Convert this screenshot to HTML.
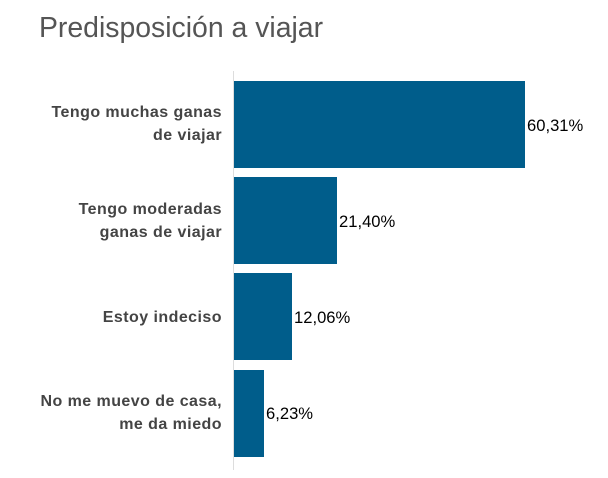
<!DOCTYPE html>
<html><head><style>
body{margin:0;width:608px;height:478px;background:#fff;font-family:"Liberation Sans",sans-serif;position:relative;overflow:hidden}
.t{position:absolute;left:39px;top:12px;font-size:28.4px;color:#555}
.ax{position:absolute;left:233px;top:71px;width:1px;height:399px;background:#ddd}
.b{position:absolute;left:234px;height:87px;background:#005d8b}
.v{position:absolute;font-size:16.6px;color:#000}
.l{position:absolute;right:386px;text-align:right;font-size:16px;color:#444;font-weight:bold;line-height:23px;letter-spacing:0.45px}
</style></head><body>
<div class="t">Predisposición a viajar</div>
<div class="ax"></div>
<div class="b" style="top:81px;width:291px"></div>
<div class="b" style="top:177px;width:103px"></div>
<div class="b" style="top:273px;width:58px"></div>
<div class="b" style="top:370px;width:30px"></div>
<div class="v" style="left:527px;top:116px">60,31%</div>
<div class="v" style="left:339px;top:212px">21,40%</div>
<div class="v" style="left:294px;top:308px">12,06%</div>
<div class="v" style="left:266px;top:404px">6,23%</div>
<div class="l" style="top:101px">Tengo muchas ganas<br>de viajar</div>
<div class="l" style="top:198px">Tengo moderadas<br>ganas de viajar</div>
<div class="l" style="top:306px">Estoy indeciso</div>
<div class="l" style="top:390px">No me muevo de casa,<br>me da miedo</div>
</body></html>
